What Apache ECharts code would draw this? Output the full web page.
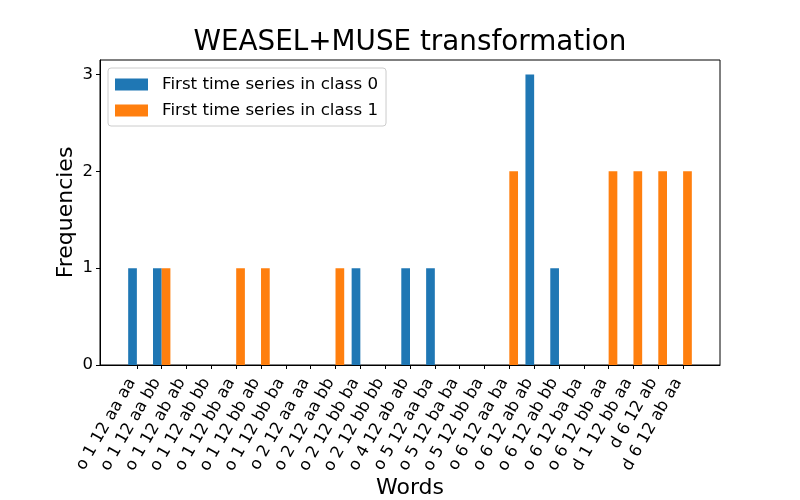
<!DOCTYPE html>
<html lang="en">
<head>
    <meta charset="UTF-8">
    <title>WEASEL+MUSE transformation</title>
    <style>
        html, body { margin: 0; padding: 0; background: #fff; }
        .mychart { width: 800px; height: 500px; }
    </style>
</head>
<body>
    <div class="mychart"></div>
</body>
<script src="https://cdn.jsdelivr.net/npm/echarts@6/dist/echarts.min.js"></script>
<script>
    // words on the x axis
    const words = [
        'o 1 12 aa aa', 'o 1 12 aa bb', 'o 1 12 ab ab', 'o 1 12 ab bb', 'o 1 12 bb aa',
        'o 1 12 bb ab', 'o 1 12 bb ba', 'o 2 12 aa aa', 'o 2 12 aa bb', 'o 2 12 bb ba',
        'o 2 12 bb bb', 'o 4 12 ab ab', 'o 5 12 aa ba', 'o 5 12 ba ba', 'o 5 12 bb ba',
        'o 6 12 aa ba', 'o 6 12 ab ab', 'o 6 12 ab bb', 'o 6 12 ba ba', 'o 6 12 bb aa',
        'd 1 12 bb aa', 'd 6 12 ab', 'd 6 12 ab aa'
    ]
    // frequencies
    const class0 = [1, 1, 0, 0, 0, 0, 0, 0, 0, 1, 0, 1, 1, 0, 0, 0, 3, 1, 0, 0, 0, 0, 0]
    const class1 = [0, 1, 0, 0, 1, 1, 0, 0, 1, 0, 0, 0, 0, 0, 0, 2, 0, 0, 0, 2, 2, 2, 2]
    const yTicks = [0, 1, 2, 3]

    const font = 'DejaVu Sans'
    const idx = words.map((w, i) => i)

    const myChart = echarts.init(document.querySelector('.mychart'))

    const config = {
        animation: false,
        textStyle: { fontFamily: font },
        title: {
            text: 'WEASEL+MUSE transformation',
            left: 405,
            textAlign: 'center',
            top: 24,
            textStyle: { fontFamily: font, fontSize: 27.8, fontWeight: 'normal', color: '#000' }
        },
        legend: {
            orient: 'vertical',
            left: 108,
            top: 68,
            padding: [8, 8, 7, 7],
            itemWidth: 33,
            itemHeight: 12,
            itemGap: 9,
            backgroundColor: '#fff',
            borderColor: '#ccc',
            borderWidth: 1,
            borderRadius: 3,
            icon: 'rect',
            textStyle: { fontFamily: font, fontSize: 16.7, color: '#000', padding: [0, 0, 0, 9] },
            data: ['First time series in class 0', 'First time series in class 1']
        },
        grid: {
            left: 100, right: 80, top: 60, bottom: 135,
            outerBoundsMode: 'none',
            containLabel: false,
            show: true, borderColor: '#000', borderWidth: 1
        },
        xAxis: {
            type: 'value',
            min: -1.485,
            max: 23.485,
            name: 'Words',
            nameLocation: 'middle',
            nameGap: 112,
            nameMoveOverlap: false,
            nameTextStyle: { fontFamily: font, fontSize: 22, color: '#000' },
            splitLine: { show: false },
            axisLine: { show: true, onZero: false, lineStyle: { color: '#000' } },
            axisTick: { show: true, length: 4, customValues: idx, lineStyle: { color: '#000' } },
            axisLabel: {
                customValues: idx,
                rotate: 60,
                fontFamily: font,
                fontSize: 16.5,
                color: '#000',
                margin: 6,
                padding: [0, 10, 11, 0],
                formatter: v => words[Math.round(v)]
            }
        },
        yAxis: {
            type: 'value',
            min: 0,
            max: 3.15,
            name: 'Frequencies',
            nameLocation: 'middle',
            nameGap: 23,
            nameMoveOverlap: false,
            nameTextStyle: { fontFamily: font, fontSize: 22, color: '#000' },
            splitLine: { show: false },
            axisLine: { show: true, onZero: false, lineStyle: { color: '#000' } },
            axisTick: { show: true, length: 4, customValues: yTicks, lineStyle: { color: '#000' } },
            axisLabel: { customValues: yTicks, fontFamily: font, fontSize: 16.5, color: '#000', margin: 7 }
        },
        series: [
            {
                type: 'bar',
                name: 'First time series in class 0',
                barWidth: 8.7,
                barGap: '0%',
                itemStyle: { color: '#1f77b4', borderWidth: 0 },
                data: class0.map((v, i) => [i, v])
            },
            {
                type: 'bar',
                name: 'First time series in class 1',
                barWidth: 8.7,
                barGap: '0%',
                itemStyle: { color: '#ff7f0e', borderWidth: 0 },
                data: class1.map((v, i) => [i, v])
            }
        ]
    }

    myChart.setOption(config)
</script>
</html>
